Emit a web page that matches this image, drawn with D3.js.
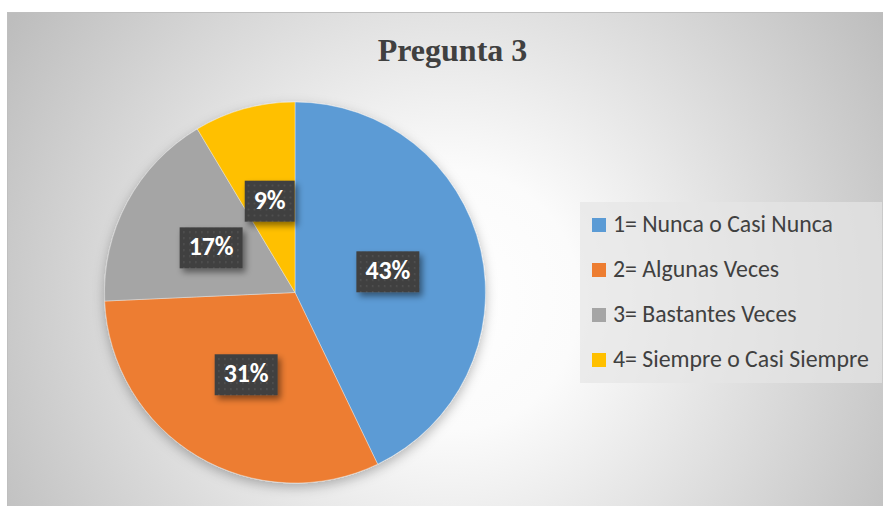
<!DOCTYPE html>
<html>
<head>
<meta charset="utf-8">
<script src="https://cdn.jsdelivr.net/npm/d3@7"></script>
<style>
  body { margin: 0; background: #fff; }
  svg { display: block; }
</style>
</head>
<body>
<div id="chart"></div>
<script>
// data
var categories = ["1= Nunca o Casi Nunca", "2= Algunas Veces", "3= Bastantes Veces", "4= Siempre o Casi Siempre"];
var counts = [15, 11, 6, 3];
var colors = ["#5b9bd5", "#ed7d31", "#a5a5a5", "#ffc000"];
var title = "Pregunta 3";

var width = 883, height = 506;
var cx = 295, cy = 292.5, radius = 190.5;
var uiFont = "Carlito, 'Open Sans', Lato, sans-serif";

var svg = d3.select("#chart")
    .append("svg")
    .attr("width", width)
    .attr("height", height);

var defs = svg.append("defs");

// background gradient
var bg = defs.append("radialGradient")
    .attr("id", "bgGrad")
    .attr("gradientUnits", "userSpaceOnUse")
    .attr("cx", 450).attr("cy", 300).attr("r", 520);
bg.append("stop").attr("offset", "0").attr("stop-color", "#ffffff");
bg.append("stop").attr("offset", "0.25").attr("stop-color", "#fbfbfb");
bg.append("stop").attr("offset", "1").attr("stop-color", "#bdbdbd");

// shadow for pie
var sh = defs.append("filter").attr("id", "pieShadow")
    .attr("x", "-20%").attr("y", "-20%").attr("width", "140%").attr("height", "140%");
sh.append("feDropShadow").attr("dx", 0).attr("dy", 4).attr("stdDeviation", 6)
    .attr("flood-color", "#000").attr("flood-opacity", 0.28);

// shadow for labels
var lsh = defs.append("filter").attr("id", "labShadow")
    .attr("x", "-30%").attr("y", "-30%").attr("width", "160%").attr("height", "160%");
lsh.append("feDropShadow").attr("dx", 3).attr("dy", 4).attr("stdDeviation", 3)
    .attr("flood-color", "#000").attr("flood-opacity", 0.45);

// dotted pattern for label boxes
var pat = defs.append("pattern")
    .attr("id", "dots")
    .attr("patternUnits", "userSpaceOnUse")
    .attr("width", 6).attr("height", 6);
pat.append("rect").attr("width", 6).attr("height", 6).attr("fill", "#404040");
pat.append("rect").attr("x", 2).attr("y", 2).attr("width", 1.5).attr("height", 1.5).attr("fill", "#575757");

// chart area
svg.append("rect")
    .attr("x", 7.5).attr("y", 12.5)
    .attr("width", 880).attr("height", 500)
    .attr("fill", "url(#bgGrad)")
    .attr("stroke", "#bfbfbf")
    .attr("stroke-width", 1);

// title
svg.append("text")
    .attr("x", 452.5)
    .attr("y", 61)
    .attr("text-anchor", "middle")
    .style("font-family", "'Liberation Serif', 'Times New Roman', serif")
    .style("font-weight", "bold")
    .style("font-size", "32px")
    .style("fill", "#404040")
    .text(title);

// pie
var total = d3.sum(counts);
var pie = d3.pie().sort(null).value(function(d) { return d; });
var arcs = pie(counts);
var arc = d3.arc().innerRadius(0).outerRadius(radius);
var labelArc = d3.arc().innerRadius(radius * 0.5).outerRadius(radius * 0.5);

var g = svg.append("g")
    .attr("transform", "translate(" + cx + "," + cy + ")");

g.append("g")
    .attr("filter", "url(#pieShadow)")
    .selectAll("path")
    .data(arcs)
    .enter()
    .append("path")
    .attr("d", arc)
    .attr("fill", function(d, i) { return colors[i]; })
    .attr("stroke", "#f4f4f4")
    .attr("stroke-width", 0.4);

// data labels
var labels = g.selectAll(".lab")
    .data(arcs)
    .enter()
    .append("g")
    .attr("class", "lab")
    .attr("transform", function(d) {
        var c = labelArc.centroid(d);
        return "translate(" + c[0] + "," + c[1] + ")";
    });

// size the label font so "43%" is about 45px wide, as in the picture
var probe = svg.append("text")
    .style("font-family", uiFont).style("font-weight", "bold").style("font-size", "20px")
    .text("43%");
var labSize = 20 * 45 / probe.node().getComputedTextLength();
probe.remove();

labels.each(function(d) {
    var sel = d3.select(this);
    var box = sel.append("rect").attr("fill", "url(#dots)").attr("filter", "url(#labShadow)");
    var t = sel.append("text")
        .attr("text-anchor", "middle")
        .attr("y", 8)
        .style("font-family", uiFont)
        .style("font-weight", "bold")
        .style("font-size", labSize + "px")
        .style("fill", "#ffffff")
        .text(Math.round(d.data / total * 100) + "%");
    var w = t.node().getComputedTextLength() + 18;
    box.attr("x", -w / 2).attr("y", -20).attr("width", w).attr("height", 41);
});

// legend
var legend = svg.append("g");
legend.append("rect")
    .attr("x", 580).attr("y", 202)
    .attr("width", 302).attr("height", 181)
    .attr("fill", "#e6e6e6")
    .attr("fill-opacity", 0.7);

// fit legend font to the longest entry (about 256px wide)
var probe2 = svg.append("text")
    .style("font-family", uiFont).style("font-size", "20px")
    .text(categories[3]);
var legSize = 20 * 256 / probe2.node().getComputedTextLength();
probe2.remove();

var items = legend.selectAll(".item")
    .data(categories)
    .enter()
    .append("g")
    .attr("class", "item")
    .attr("transform", function(d, i) { return "translate(592," + (225 + i * 45) + ")"; });

items.append("rect")
    .attr("x", 0).attr("y", -7)
    .attr("width", 14).attr("height", 14)
    .attr("fill", function(d, i) { return colors[i]; });

items.append("text")
    .attr("x", 21)
    .attr("y", 7)
    .style("font-family", uiFont)
    .style("font-size", legSize + "px")
    .style("fill", "#404040")
    .text(function(d) { return d; });
</script>
</body>
</html>
